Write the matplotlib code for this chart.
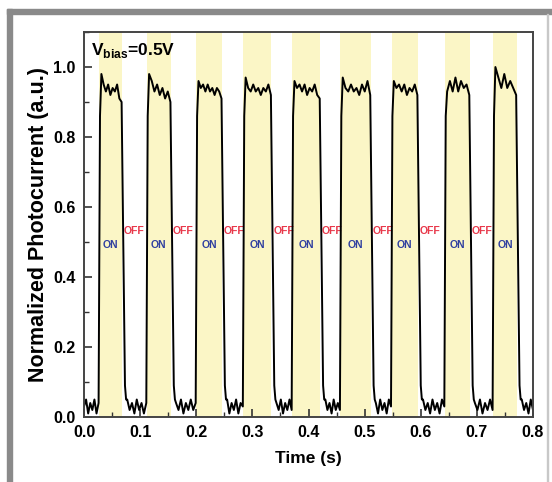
import numpy as np
import matplotlib
matplotlib.use('Agg')
import matplotlib.pyplot as plt
import matplotlib as mpl
from matplotlib.patches import Rectangle
from matplotlib.ticker import MultipleLocator

params = {
    'font.family': 'Liberation Sans',
    'font.weight': 'bold',
    'axes.labelweight': 'bold',
    'mathtext.fontset': 'custom',
    'mathtext.rm': 'Liberation Sans:bold',
    'mathtext.bf': 'Liberation Sans:bold',
    'xtick.direction': 'in',
    'ytick.direction': 'in',
}
mpl.rcParams.update(params)

# light ON / OFF windows (s)
on_times = [0.027, 0.112, 0.200, 0.284, 0.371, 0.457, 0.548, 0.643, 0.729]
off_times = [0.068, 0.155, 0.246, 0.334, 0.421, 0.511, 0.595, 0.6875, 0.771]

# photocurrent read along each illuminated plateau
plateaus = [
    [0.98, 0.95, 0.93, 0.95, 0.92, 0.94, 0.93, 0.95, 0.91, 0.90],
    [0.98, 0.96, 0.93, 0.95, 0.92, 0.94, 0.91, 0.93, 0.90],
    [0.96, 0.94, 0.95, 0.93, 0.95, 0.93, 0.94, 0.92, 0.94, 0.93, 0.91],
    [0.97, 0.94, 0.93, 0.95, 0.93, 0.94, 0.92, 0.94, 0.93, 0.95, 0.92],
    [0.96, 0.94, 0.95, 0.93, 0.95, 0.92, 0.94, 0.93, 0.95, 0.92, 0.91],
    [0.97, 0.94, 0.93, 0.95, 0.93, 0.94, 0.92, 0.95, 0.93, 0.96, 0.92],
    [0.96, 0.94, 0.95, 0.93, 0.95, 0.92, 0.94, 0.93, 0.95, 0.92],
    [0.93, 0.96, 0.93, 0.97, 0.93, 0.96, 0.94, 0.95, 0.92],
    [1.00, 0.97, 0.94, 0.98, 0.94, 0.96, 0.94, 0.92],
]

# dark-current noise read in each OFF gap (before first, between, after last)
baselines = [
    [0.03, 0.05, 0.01, 0.04, 0.02, 0.05, 0.01, 0.04],
    [0.05, 0.02, 0.04, 0.01, 0.05, 0.02, 0.04, 0.01, 0.04],
    [0.04, 0.02, 0.05, 0.01, 0.04, 0.02, 0.05, 0.02, 0.04],
    [0.05, 0.01, 0.04, 0.02, 0.05, 0.01, 0.04, 0.03],
    [0.04, 0.02, 0.05, 0.01, 0.04, 0.02, 0.05, 0.02],
    [0.05, 0.02, 0.04, 0.01, 0.05, 0.02, 0.04, 0.02],
    [0.04, 0.01, 0.05, 0.02, 0.04, 0.01, 0.05, 0.03],
    [0.05, 0.02, 0.04, 0.01, 0.05, 0.02, 0.04, 0.01, 0.05, 0.03],
    [0.04, 0.02, 0.05, 0.01, 0.04, 0.02, 0.05, 0.02],
    [0.05, 0.02, 0.04, 0.01, 0.05, 0.02],
]

x_ticks = [0.0, 0.1, 0.2, 0.3, 0.4, 0.5, 0.6, 0.7, 0.8]
y_ticks = [0.0, 0.2, 0.4, 0.6, 0.8, 1.0]


def build_trace():
    t, y = [], []
    gap_start = 0.0
    for i, (on, off) in enumerate(zip(on_times, off_times)):
        vals = baselines[i]
        t += list(np.linspace(gap_start, on - 0.001, len(vals)))
        y += vals
        # sharp rise then the noisy plateau
        t.append(on + 0.0015)
        y.append(0.86)
        p = plateaus[i]
        t += list(np.linspace(on + 0.004, off - 0.001, len(p)))
        y += p
        # slightly slower decay
        t += [off + 0.005, off + 0.007]
        y += [0.09, 0.05]
        gap_start = off + 0.009
    vals = baselines[-1]
    t += list(np.linspace(gap_start, 0.8, len(vals)))
    y += vals
    return t, y


fig = plt.figure(figsize=(5.52, 4.82), dpi=100)
ax = fig.add_axes([84 / 552, 1 - 417 / 482, 449 / 552, 385 / 482])

for on, off in zip(on_times, off_times):
    ax.axvspan(on, off, color='#fbf6c6', lw=0, zorder=0)

t, y = build_trace()
ax.plot(t, y, color='black', lw=1.4, zorder=2)

for on, off in zip(on_times, off_times):
    ax.text((on + off) / 2, 0.49, 'ON', color='#3040a0', fontsize=7.5,
            ha='center', va='center', zorder=3)
for off in off_times[:-1]:
    ax.text(off + 0.003, 0.53, 'OFF', color='#e8384a', fontsize=7.5,
            ha='left', va='center', zorder=1)

ax.text(0.012, 1.035, r'V$_{\mathrm{bias}}$=0.5V', fontsize=12.5,
        ha='left', va='baseline')

ax.set_xlim(0, 0.8)
ax.set_ylim(0, 1.1)
ax.set_xticks(x_ticks)
ax.set_yticks(y_ticks)
ax.xaxis.set_minor_locator(MultipleLocator(0.05))
ax.yaxis.set_minor_locator(MultipleLocator(0.1))
ax.tick_params(which='major', length=6, width=1.2, labelsize=11.5, pad=6,
               color='#333333')
ax.tick_params(which='minor', length=3.5, width=1.0, color='#333333')
ax.set_xticklabels(['%.1f' % v for v in x_ticks])
ax.set_yticklabels(['%.1f' % v for v in y_ticks])
for s in ax.spines.values():
    s.set_linewidth(1.4)
    s.set_color('#444444')

ax.set_xlabel('Time (s)', fontsize=12.5, labelpad=8)
ax.set_ylabel('Normalized Photocurrent (a.u.)', fontsize=15.5, labelpad=3)

# grey picture frame
fig.patches.append(Rectangle((7 / 552, 1 - 14 / 482), 1, 5 / 482,
                             transform=fig.transFigure, color='#8a8a8a'))
fig.patches.append(Rectangle((7 / 552, 0), 5 / 552, 1 - 9 / 482,
                             transform=fig.transFigure, color='#8a8a8a'))
fig.patches.append(Rectangle((547 / 552, 0), 1.2 / 552, 1 - 14 / 482,
                             transform=fig.transFigure, color='#c8c8c8'))

fig.savefig('out.png', dpi=100)
